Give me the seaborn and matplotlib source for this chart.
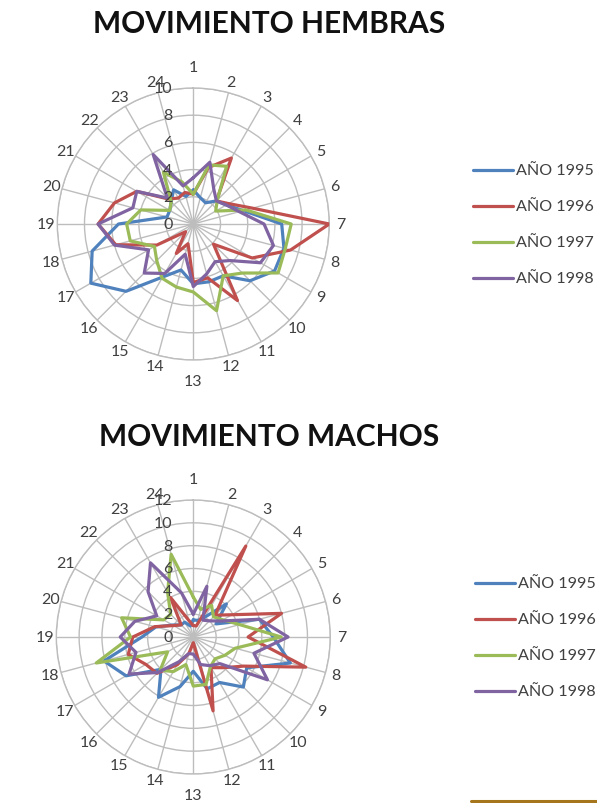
import numpy as np
import pandas as pd
import matplotlib
matplotlib.use("Agg")
import matplotlib.pyplot as plt
import seaborn as sns
from matplotlib.lines import Line2D

# ---- data -------------------------------------------------------------
categories = [str(i) for i in range(1, 25)]
years = ["AÑO 1995", "AÑO 1996", "AÑO 1997", "AÑO 1998"]

hembras_1995 = [2.5, 2.0, 1.8, 2.4, 2.8, 3.8, 6.5, 6.9, 6.9, 5.9, 4.4, 4.4, 4.4, 3.5, 4.5, 7.0, 8.7, 7.7, 5.5, 2.0, 2.0, 2.3, 2.9, 2.1]
hembras_1996 = [2.2, 4.3, 5.6, 2.4, 3.0, 4.5, 10.0, 7.4, 5.0, 2.1, 6.5, 4.1, 4.3, 1.5, 2.5, 0.8, 3.1, 5.9, 7.0, 6.0, 4.8, 2.6, 2.2, 2.4]
hembras_1997 = [2.2, 4.5, 4.9, 2.5, 1.9, 4.0, 7.2, 7.0, 7.2, 5.1, 4.4, 6.6, 5.0, 4.8, 4.6, 3.8, 3.3, 4.8, 4.9, 4.0, 2.0, 2.3, 4.4, 3.2]
hembras_1998 = [3.4, 4.7, 3.0, 2.4, 2.8, 3.5, 5.2, 6.1, 5.7, 3.8, 3.2, 3.8, 4.6, 2.3, 4.2, 5.1, 3.8, 6.0, 7.0, 4.6, 4.8, 2.7, 5.9, 2.9]

machos_1995 = [1.5, 1.5, 2.0, 4.1, 2.3, 6.0, 7.0, 8.8, 5.4, 6.2, 4.6, 4.7, 3.0, 4.5, 6.1, 4.0, 6.8, 8.1, 4.5, 3.4, 2.1, 1.5, 1.5, 1.0]
machos_1996 = [1.0, 1.0, 9.2, 2.7, 3.9, 8.0, 4.8, 10.2, 5.1, 3.8, 3.1, 6.7, 0.5, 1.5, 2.8, 4.5, 4.8, 5.9, 5.3, 3.5, 2.0, 1.5, 4.0, 1.5]
machos_1997 = [3.5, 2.5, 3.2, 2.5, 3.0, 4.2, 7.7, 3.8, 3.2, 2.7, 3.0, 4.3, 4.3, 2.5, 3.5, 4.1, 2.6, 8.8, 5.5, 6.5, 3.0, 2.8, 4.5, 7.5]
machos_1998 = [2.0, 4.6, 1.7, 2.0, 2.8, 6.0, 8.3, 5.5, 7.5, 3.3, 2.9, 2.5, 1.5, 1.5, 2.5, 4.4, 6.5, 5.2, 6.4, 5.3, 3.7, 5.6, 7.5, 4.0]

palette = ["#4F81BD", "#C0504D", "#9BBB59", "#8064A2"]

sns.set_theme(style="white")
plt.rcParams["font.family"] = ["Lato", "DejaVu Sans"]

GRID = "#BDBDBD"
TEXT = "#404040"
LW = 2.3


def long_form(series):
    """Stack the four yearly series into one closed-loop table."""
    theta = np.deg2rad(np.arange(len(categories)) * 15.0)
    rows = []
    for year, vals in zip(years, series):
        for t, v in zip(theta, vals):
            rows.append((year, t, v))
        rows.append((year, 2 * np.pi, vals[0]))
    return pd.DataFrame(rows, columns=["Año", "theta", "valor"])


def radar(ax, series, rmax, radius_px):
    df = long_form(series)
    sns.lineplot(data=df, x="theta", y="valor", hue="Año", palette=palette,
                 sort=False, estimator=None, linewidth=LW, ax=ax, legend=False)
    ax.set_theta_zero_location("N")
    ax.set_theta_direction(-1)
    ax.set_ylim(0, rmax)
    theta = np.deg2rad(np.arange(len(categories)) * 15.0)
    ax.set_xticks(theta)
    ax.set_xticklabels([])
    ax.set_yticks(np.arange(0, rmax + 1, 2))
    ax.set_yticklabels([])
    ax.set_xlabel("")
    ax.set_ylabel("")
    ax.grid(True, color=GRID, linewidth=1.0)
    ax.spines["polar"].set_color(GRID)
    ax.spines["polar"].set_linewidth(1.0)
    ax.set_facecolor("none")
    for line in ax.lines:
        line.set_zorder(3)
    # category labels around the rim
    for i, lab in enumerate(categories):
        gap = 21 if i in (0, 12) else 11
        ax.text(theta[i], rmax * (1 + gap / radius_px), lab, ha="center",
                va="center", fontsize=11.5, color=TEXT, clip_on=False)
    # value labels along the first spoke
    for v in np.arange(0, rmax + 1, 2):
        ax.annotate(str(v), xy=(0, v), xytext=(-15, 0),
                    textcoords="offset points", ha="right", va="center",
                    fontsize=11.5, color=TEXT, annotation_clip=False)


def year_key(top_y, x_line):
    """Line-and-label key for the four years, drawn in figure pixels."""
    for k, (year, col) in enumerate(zip(years, palette)):
        y = 1 - (top_y + 36 * k) / H
        fig.add_artist(Line2D([x_line / W, (x_line + 40) / W], [y, y],
                              color=col, linewidth=LW,
                              transform=fig.transFigure))
        fig.text((x_line + 43) / W, y, year, ha="left", va="center",
                 fontsize=11.6, color=TEXT)


fig = plt.figure(figsize=(5.97, 8.04), dpi=100)
W, H = 597.0, 804.0

# top chart: centre (193, 225), radius 136 px
ax1 = fig.add_axes([(193.3 - 136) / W, (H - 225 - 136) / H, 272 / W, 272 / H],
                   projection="polar")
radar(ax1, [hembras_1995, hembras_1996, hembras_1997, hembras_1998], 10, 136)

# bottom chart: centre (193, 638), radius 137 px
ax2 = fig.add_axes([(193.3 - 137) / W, (H - 638 - 137) / H, 274 / W, 274 / H],
                   projection="polar")
radar(ax2, [machos_1995, machos_1996, machos_1997, machos_1998], 12, 137)

fig.text(269 / W, 1 - 24 / H, "MOVIMIENTO HEMBRAS", ha="center", va="center",
         fontsize=21.5, fontweight="bold", color="#111111")
fig.text(269 / W, 1 - 437 / H, "MOVIMIENTO MACHOS", ha="center", va="center",
         fontsize=21.5, fontweight="bold", color="#111111")

year_key(171, 473)
year_key(584, 475)

# accent rule along the bottom edge
fig.add_artist(Line2D([471 / W, 1.0], [2.5 / H, 2.5 / H], color="#A6761D",
                      linewidth=2.2, transform=fig.transFigure))

fig.savefig("out.png", dpi=100)
